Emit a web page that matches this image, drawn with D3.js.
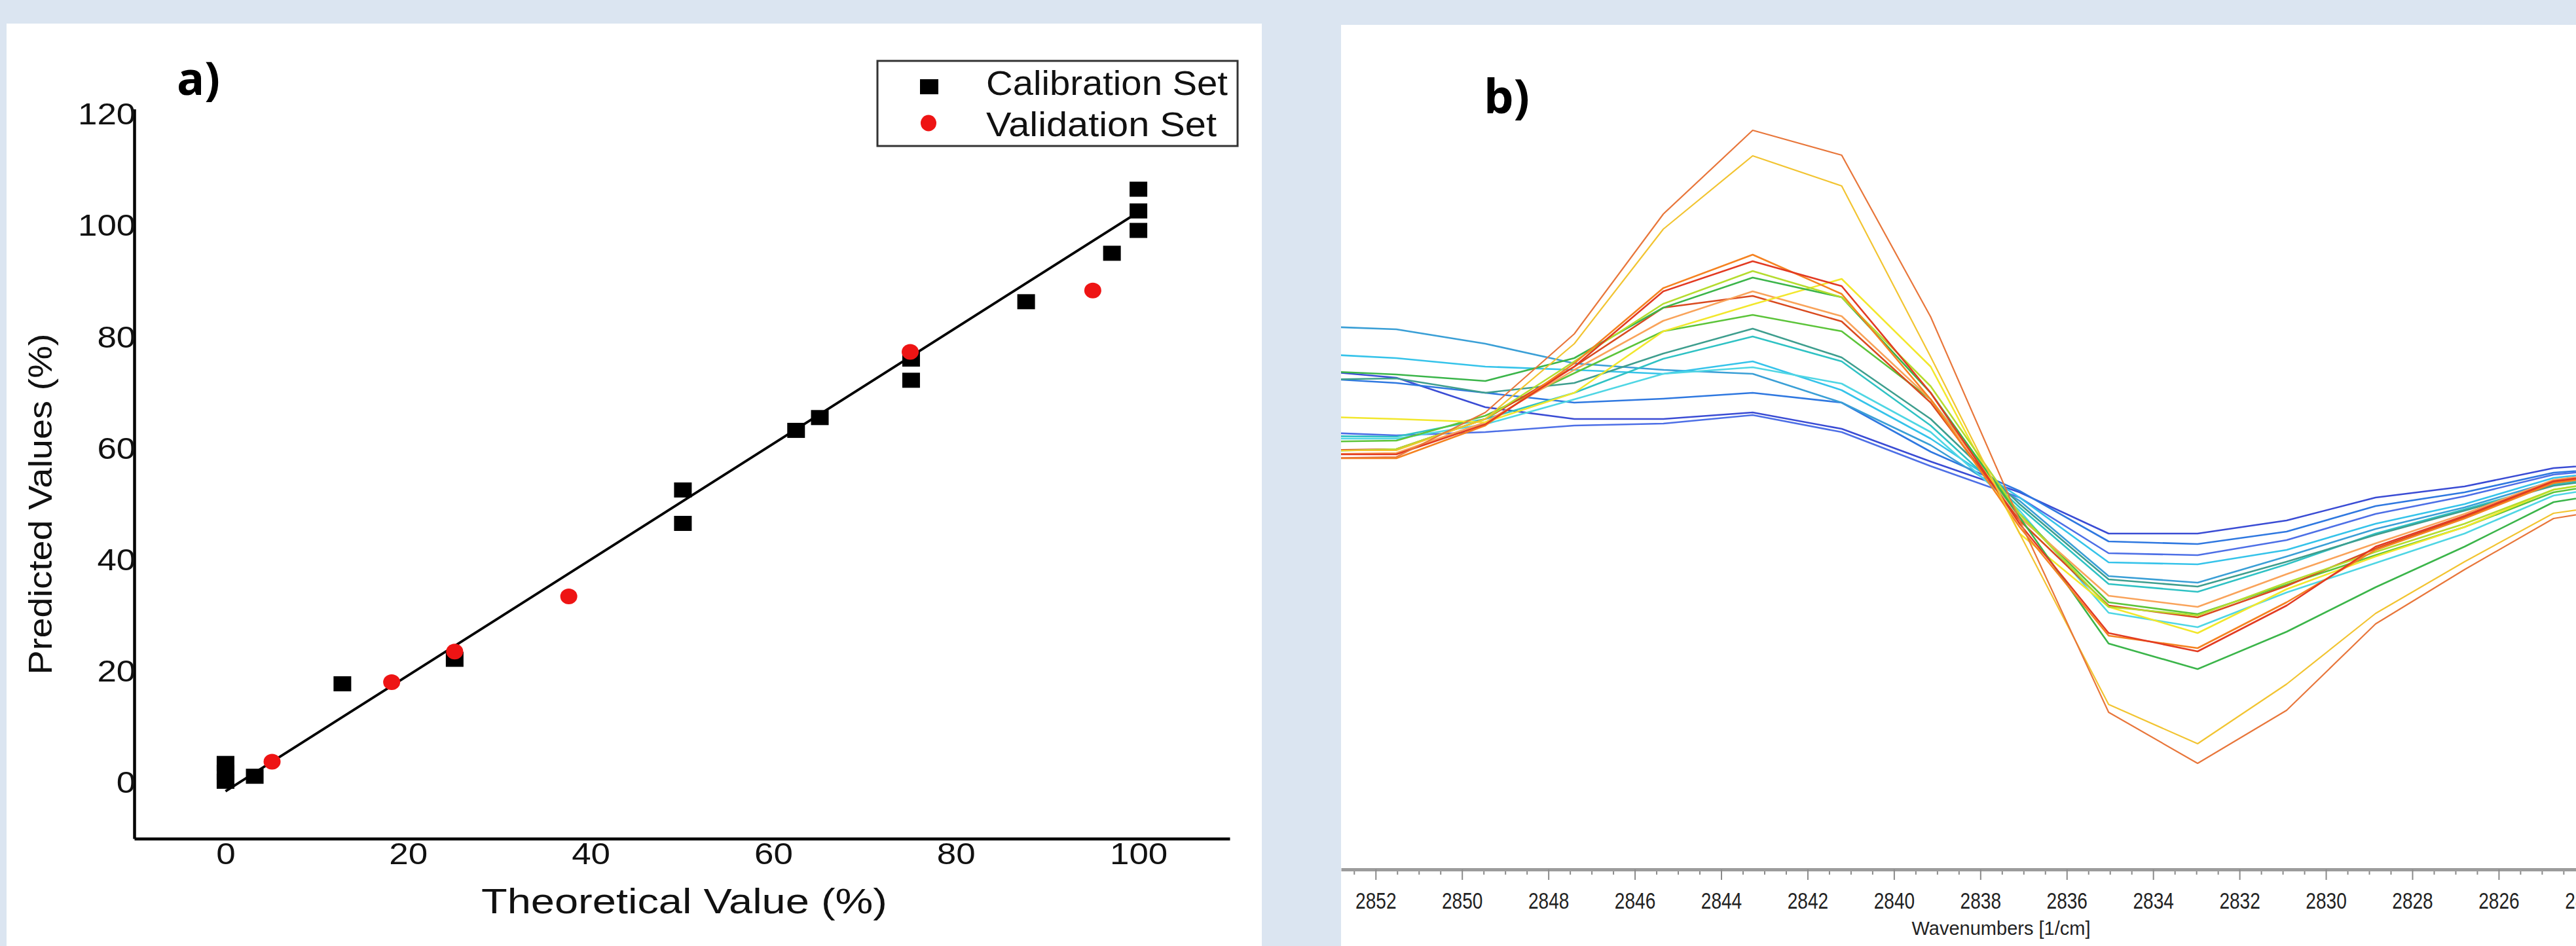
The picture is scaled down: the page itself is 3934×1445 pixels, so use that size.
<!DOCTYPE html>
<html>
<head>
<meta charset="utf-8">
<script src="https://cdn.jsdelivr.net/npm/d3@7"></script>
<style>
  body { margin: 0; background: #dbe5f1; }
  svg { display: block; }
</style>
</head>
<body>
<div id="chart"></div>
<script>
// ---- panel a) : predicted vs theoretical ----
const calTheoretical = [0, 0, 0, 3.2, 12.8, 25.1, 50.1, 50.1, 62.5, 65.1, 75.1, 75.1, 87.7, 97.1, 100, 100, 100];
const calPredicted = [3.5, 1.9, 0.3, 1.2, 17.8, 22.2, 52.6, 46.6, 63.3, 65.6, 76.1, 72.3, 86.4, 95.1, 106.6, 102.7, 99.2];
const valTheoretical = [5.1, 18.2, 25.1, 37.6, 75.0, 95.0];
const valPredicted = [3.8, 18.1, 23.6, 33.5, 77.4, 88.4];
const fitTheoretical = [0, 100];
const fitPredicted = [-1.5, 102.5];
const xTicksA = [0, 20, 40, 60, 80, 100];
const yTicksA = [0, 20, 40, 60, 80, 100, 120];
const legendLabels = ["Calibration Set", "Validation Set"];

// ---- panel b) : second derivative spectra ----
const wavenumbers = [2853.58, 2851.52, 2849.46, 2847.40, 2845.34, 2843.27, 2841.21, 2839.15, 2837.09, 2835.03, 2832.97, 2830.91, 2828.85, 2826.79, 2824.73, 2822.67];
const specOrangeBig = [7.0, 7.2, 14.0, 26.0, 44.3, 57.1, 53.3, 28.6, -2.5, -31.8, -39.6, -31.5, -18.3, -10.0, -2.2, 0.0];
const specYellowBig = [8.2, 8.2, 13.0, 24.5, 42.0, 53.2, 48.6, 22.5, -4.5, -30.6, -36.6, -27.5, -16.7, -8.8, -1.4, 0.5];
const specRed = [7.6, 7.6, 12.2, 21.0, 32.5, 37.1, 33.3, 17.0, -3.0, -19.7, -22.5, -15.5, -6.5, -1.8, 3.5, 5.2];
const specOrange = [7.0, 7.0, 12.0, 21.5, 33.0, 38.1, 32.1, 16.0, -3.5, -20.1, -22.0, -15.0, -7.0, -2.2, 3.2, 5.0];
const specYellowGreen = [8.0, 8.4, 13.0, 21.8, 30.6, 35.6, 31.6, 18.0, -1.5, -15.7, -17.0, -12.0, -7.3, -3.0, 2.2, 4.4];
const specGreen = [20.4, 19.8, 18.8, 22.3, 30.0, 34.6, 31.6, 17.0, -2.0, -21.3, -25.2, -19.5, -12.7, -6.5, 0.3, 2.5];
const specOrangeLight = [7.6, 7.8, 12.5, 20.5, 28.0, 32.5, 28.7, 16.0, -2.0, -14.0, -15.7, -10.7, -6.0, -1.5, 3.7, 5.4];
const specRed2 = [8.2, 8.4, 13.0, 21.0, 30.0, 31.8, 27.9, 15.5, -2.5, -15.5, -17.3, -12.5, -6.8, -2.0, 3.3, 5.2];
const specGreen2 = [9.5, 9.7, 13.5, 20.0, 26.4, 28.9, 26.4, 16.0, -1.5, -15.0, -16.8, -12.3, -7.8, -3.5, 1.8, 4.0];
const specYellow = [13.4, 13.0, 12.5, 17.0, 26.4, 30.5, 34.4, 21.0, -4.5, -15.7, -19.7, -13.0, -8.0, -3.5, 2.2, 4.3];
const specTeal = [19.0, 19.2, 17.0, 18.5, 23.0, 26.8, 22.4, 13.0, 0.0, -11.5, -12.6, -8.8, -4.7, -1.0, 2.8, 4.6];
const specTealCyan = [10.4, 10.3, 13.0, 17.0, 22.2, 25.6, 21.8, 12.0, -0.5, -12.2, -13.4, -9.2, -4.5, -0.8, 3.0, 4.8];
const specCyan = [10.0, 10.0, 12.2, 16.0, 19.9, 20.9, 18.4, 11.0, -1.0, -16.6, -18.8, -13.5, -9.0, -4.5, 1.3, 3.5];
const specCyan2 = [23.0, 22.3, 21.0, 20.5, 19.9, 21.8, 17.4, 10.0, 1.0, -8.9, -9.2, -7.0, -3.0, 0.0, 4.0, 5.5];
const specCyanBlue = [27.2, 26.7, 24.5, 21.5, 20.5, 19.9, 15.5, 9.0, 0.5, -11.0, -12.0, -8.0, -3.8, -0.5, 3.5, 5.2];
const specBlue2 = [19.3, 18.5, 17.0, 15.5, 16.1, 17.0, 15.5, 8.0, 2.0, -5.7, -6.1, -4.2, -0.3, 1.8, 4.8, 5.8];
const specBlue = [20.5, 19.3, 14.8, 13.0, 13.0, 14.0, 11.5, 6.5, 1.8, -4.5, -4.5, -2.5, 1.0, 2.7, 5.5, 6.5];
const specBlue3 = [11.0, 10.5, 11.0, 12.0, 12.3, 13.6, 11.0, 5.8, 1.0, -7.5, -7.8, -5.5, -1.5, 1.2, 4.5, 5.8];
const majorTicksB = [2852, 2850, 2848, 2846, 2844, 2842, 2840, 2838, 2836, 2834, 2832, 2830, 2828, 2826, 2824];

const spectra = [specBlue, specBlue3, specBlue2, specCyanBlue, specCyan2, specCyan, specTealCyan, specTeal,
  specGreen2, specRed2, specOrangeLight, specYellow, specGreen, specYellowGreen, specOrange, specRed,
  specYellowBig, specOrangeBig];
const spectraColors = ["#3a4cd4", "#4d6fe6", "#2f78e0", "#3a9fd6", "#35c3ea", "#4fd6e4", "#2fc2c4", "#3e9e8e",
  "#5cc43a", "#d94a1f", "#f9a35a", "#f2e72c", "#3bb54a", "#b5dc2e", "#f58220", "#e23a22",
  "#f2c431", "#e8763a"];

const W = 3934, H = 1445;
const sans = "'Liberation Sans', Arial, sans-serif";

const svg = d3.select("#chart").append("svg")
  .attr("width", W)
  .attr("height", H);

svg.append("rect").attr("width", W).attr("height", H).attr("fill", "#dbe5f1");

// ================= panel a =================
svg.append("rect")
  .attr("x", 10).attr("y", 36)
  .attr("width", 1917).attr("height", H - 36)
  .attr("fill", "#fff");

const x = d3.scaleLinear().domain([-10, 110]).range([205, 1878]);
const y = d3.scaleLinear().domain([-10, 121]).range([1281, 166.5]);

const gy = svg.append("g")
  .attr("transform", "translate(205,0)")
  .call(d3.axisLeft(y).tickValues(yTicksA).tickSize(0).tickPadding(-2).tickSizeOuter(0));
gy.select(".domain").attr("stroke", "#000").attr("stroke-width", 4.5);
gy.selectAll("text")
  .attr("font-size", 46)
  .attr("font-family", sans)
  .attr("fill", "#111")
  .attr("transform", "scale(1.15,1)");

const gx = svg.append("g")
  .attr("transform", "translate(0,1281)")
  .call(d3.axisBottom(x).tickValues(xTicksA).tickSize(0).tickPadding(6).tickSizeOuter(0));
gx.select(".domain").attr("stroke", "#000").attr("stroke-width", 4.5);
gx.selectAll("text")
  .attr("font-size", 46)
  .attr("font-family", sans)
  .attr("fill", "#111")
  .attr("transform", "scale(1.15,1)");

// calibration squares
svg.append("g")
  .selectAll("rect")
  .data(d3.zip(calTheoretical, calPredicted))
  .join("rect")
  .attr("x", d => x(d[0]) - 13.5)
  .attr("y", d => y(d[1]) - 11.5)
  .attr("width", 27)
  .attr("height", 23)
  .attr("fill", "#000");

// regression line
svg.append("path")
  .datum(d3.zip(fitTheoretical, fitPredicted))
  .attr("fill", "none")
  .attr("stroke", "#000")
  .attr("stroke-width", 3.8)
  .attr("d", d3.line().x(d => x(d[0])).y(d => y(d[1])));

// validation points
svg.append("g")
  .selectAll("ellipse")
  .data(d3.zip(valTheoretical, valPredicted))
  .join("ellipse")
  .attr("cx", d => x(d[0]))
  .attr("cy", d => y(d[1]))
  .attr("rx", 13)
  .attr("ry", 12)
  .attr("fill", "#ee1414");

// legend
const legend = svg.append("g");
legend.append("rect")
  .attr("x", 1340).attr("y", 93)
  .attr("width", 550).attr("height", 130)
  .attr("fill", "#fff")
  .attr("stroke", "#333")
  .attr("stroke-width", 3);
legend.append("rect")
  .attr("x", 1405).attr("y", 121)
  .attr("width", 28).attr("height", 23)
  .attr("fill", "#000");
legend.append("ellipse")
  .attr("cx", 1418).attr("cy", 188)
  .attr("rx", 12).attr("ry", 12.5)
  .attr("fill", "#ee1414");
legend.selectAll("text.lbl")
  .data(legendLabels)
  .join("text")
  .attr("class", "lbl")
  .attr("x", 1506)
  .attr("y", (d, i) => 145 + i * 63)
  .attr("font-size", 51)
  .attr("font-family", sans)
  .attr("fill", "#111")
  .attr("textLength", (d, i) => i === 0 ? 369 : 352)
  .attr("lengthAdjust", "spacingAndGlyphs")
  .text(d => d);

// axis titles
svg.append("text")
  .attr("x", 1045).attr("y", 1395)
  .attr("text-anchor", "middle")
  .attr("font-size", 53)
  .attr("font-family", sans)
  .attr("fill", "#111")
  .attr("textLength", 620)
  .attr("lengthAdjust", "spacingAndGlyphs")
  .text("Theoretical Value (%)");

svg.append("text")
  .attr("transform", "translate(79,770) rotate(-90)")
  .attr("text-anchor", "middle")
  .attr("font-size", 50)
  .attr("font-family", sans)
  .attr("fill", "#111")
  .attr("textLength", 521)
  .attr("lengthAdjust", "spacingAndGlyphs")
  .text("Predicted Values (%)");

svg.append("text")
  .attr("x", 270).attr("y", 145)
  .attr("font-size", 70)
  .attr("font-weight", "bold")
  .attr("font-family", "'Open Sans', sans-serif")
  .attr("fill", "#000")
  .text("a)");

// ================= panel b =================
svg.append("rect")
  .attr("x", 2048).attr("y", 38)
  .attr("width", W - 2048).attr("height", H - 38)
  .attr("fill", "#fff");

const xb = d3.scaleLinear().domain([2852.8, 2824.21]).range([2048, W]);
const yb = d3.scaleLinear().domain([-55.8, 72.2]).range([1328, 48]);

svg.append("clipPath")
  .attr("id", "clipB")
  .append("rect")
  .attr("x", 2048).attr("y", 38)
  .attr("width", W - 2048).attr("height", 1290);

const line = d3.line()
  .x((d, i) => xb(wavenumbers[i]))
  .y(d => yb(d));

svg.append("g")
  .attr("clip-path", "url(#clipB)")
  .selectAll("path")
  .data(spectra)
  .join("path")
  .attr("fill", "none")
  .attr("stroke", (d, i) => spectraColors[i])
  .attr("stroke-width", (d, i) => i >= 16 ? 2.2 : 2.6)
  .attr("stroke-linejoin", "round")
  .attr("d", line);

const minorTicks = d3.range(2824.5, 2853, 0.5).filter(d => d % 2 !== 0);

const gMinor = svg.append("g")
  .attr("transform", "translate(0,1328)")
  .call(d3.axisBottom(xb).tickValues(minorTicks).tickSize(8).tickFormat(""));
gMinor.select(".domain").remove();
gMinor.selectAll("line").attr("stroke", "#8a8a8a").attr("stroke-width", 2);

const gMajor = svg.append("g")
  .attr("transform", "translate(0,1328)")
  .call(d3.axisBottom(xb).tickValues(majorTicksB).tickSize(16).tickPadding(18).tickSizeOuter(0).tickFormat(d3.format("d")));
gMajor.select(".domain").attr("stroke", "#9c9c9c").attr("stroke-width", 5);
gMajor.selectAll("line").attr("stroke", "#8a8a8a").attr("stroke-width", 2);
gMajor.selectAll("text")
  .attr("font-size", 36)
  .attr("font-family", sans)
  .attr("fill", "#222")
  .attr("transform", "scale(0.78,1)");

svg.append("text")
  .attr("x", 3056).attr("y", 1428)
  .attr("text-anchor", "middle")
  .attr("font-size", 29)
  .attr("font-family", sans)
  .attr("fill", "#222")
  .text("Wavenumbers [1/cm]");

svg.append("text")
  .attr("x", 2266).attr("y", 173)
  .attr("font-size", 72)
  .attr("font-weight", "bold")
  .attr("font-family", "'Open Sans', sans-serif")
  .attr("fill", "#000")
  .text("b)");
</script>
</body>
</html>
